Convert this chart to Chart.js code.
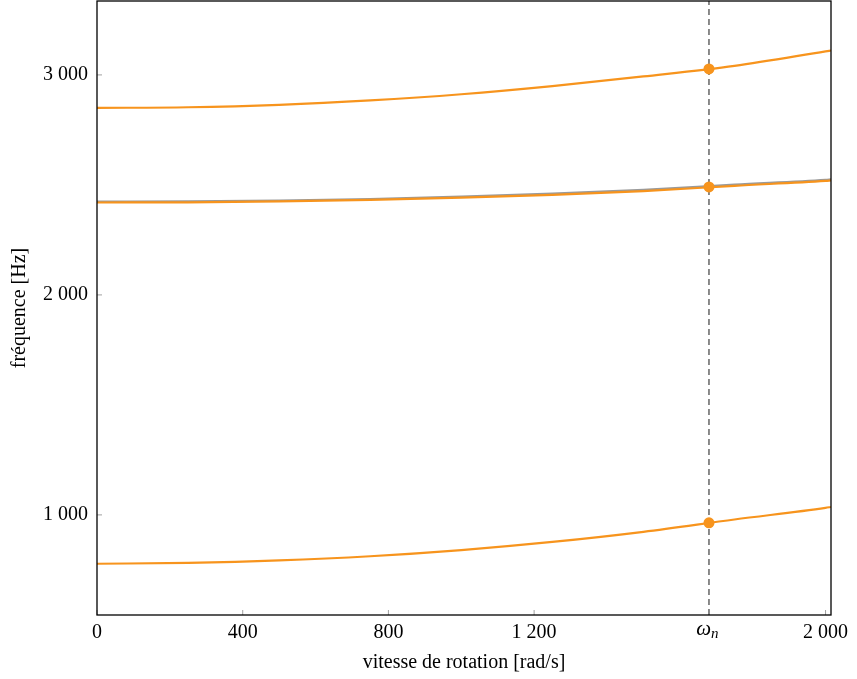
<!DOCTYPE html>
<html>
<head>
<meta charset="utf-8">
<script src="https://cdn.jsdelivr.net/npm/chart.js@4"></script>
<style>
  html, body { margin: 0; padding: 0; background: #fff; }
  #wrap { width: 857px; height: 679px; }
</style>
</head>
<body>
<div id="wrap"><canvas id="grafik" width="857" height="679"></canvas></div>
<script>
// ======= Données =======
const vitesse = [0, 250, 500, 750, 1000, 1250, 1500, 1750, 2000, 2015];
const modeBas = [778, 782, 793, 812, 840, 877, 923, 979, 1032, 1036];
const modeMilieuGris = [2424, 2425, 2429, 2436, 2447, 2460, 2477, 2501, 2523, 2525];
const modeMilieu = [2420, 2421, 2425, 2432, 2442, 2455, 2472, 2496, 2518, 2520];
const modeHaut = [2850, 2853, 2864, 2884, 2912, 2949, 2993, 3041, 3107, 3111];

const omegaN = 1680;
const pointsOmega = [964, 2491, 3027];

const xTicks = [0, 400, 800, 1200, omegaN, 2000];
const yTicks = [1000, 2000, 3000];
const xMin = 0, xMax = 2015;
const yMin = 545, yMax = 3336;

const ORANGE = '#f7941d';
const GRIS = '#9a9a9a';
const POLICE = "'Liberation Serif', 'DejaVu Serif', serif";
const TAILLE = 20;

function serie(ys) {
    return vitesse.map((x, i) => ({ x: x, y: ys[i] }));
}

function milliers(v) {
    return String(v).replace(/\B(?=(\d{3})+(?!\d))/g, ' ');
}

// ======= Cadre, graduations vers l'intérieur, étiquette omega_n =======
const cadrePlugin = {
    id: 'cadre',
    afterDatasetsDraw(chart) {
        const ctx = chart.ctx;
        const a = chart.chartArea;
        const sx = chart.scales.x, sy = chart.scales.y;
        ctx.save();
        ctx.strokeStyle = '#888';
        ctx.lineWidth = 0.8;
        sx.ticks.forEach(t => {
            const px = sx.getPixelForValue(t.value);
            ctx.beginPath();
            ctx.moveTo(px, a.bottom);
            ctx.lineTo(px, a.bottom - 5);
            ctx.stroke();
        });
        sy.ticks.forEach(t => {
            const py = sy.getPixelForValue(t.value);
            ctx.beginPath();
            ctx.moveTo(a.left, py);
            ctx.lineTo(a.left + 5, py);
            ctx.stroke();
        });
        ctx.strokeStyle = '#000';
        ctx.lineWidth = 1.3;
        ctx.strokeRect(a.left, a.top, a.right - a.left, a.bottom - a.top);

        // ω avec indice n
        const px = sx.getPixelForValue(omegaN);
        ctx.fillStyle = '#000';
        ctx.textBaseline = 'alphabetic';
        ctx.font = 'italic ' + (TAILLE + 1) + 'px ' + POLICE;
        ctx.textAlign = 'right';
        ctx.fillText('ω', px + 2, a.bottom + 20);
        ctx.font = 'italic ' + Math.round(TAILLE * 0.75) + 'px ' + POLICE;
        ctx.textAlign = 'left';
        ctx.fillText('n', px + 2, a.bottom + 23);
        ctx.restore();
    }
};

new Chart(document.getElementById('grafik').getContext('2d'), {
    type: 'line',
    data: {
        datasets: [
            {
                label: 'omega_n',
                data: [{ x: omegaN, y: yMin }, { x: omegaN, y: yMax }],
                borderColor: '#6e6e6e',
                borderWidth: 1.6,
                borderDash: [6, 4],
                pointRadius: 0,
                order: 10
            },
            { label: 'bas', data: serie(modeBas), borderColor: ORANGE, borderWidth: 2.2, pointRadius: 0, cubicInterpolationMode: 'monotone', order: 5 },
            { label: 'milieu gris', data: serie(modeMilieuGris), borderColor: GRIS, borderWidth: 2.2, pointRadius: 0, cubicInterpolationMode: 'monotone', order: 6 },
            { label: 'milieu', data: serie(modeMilieu), borderColor: ORANGE, borderWidth: 2.2, pointRadius: 0, cubicInterpolationMode: 'monotone', order: 5 },
            { label: 'haut', data: serie(modeHaut), borderColor: ORANGE, borderWidth: 2.2, pointRadius: 0, cubicInterpolationMode: 'monotone', order: 5 },
            {
                label: 'points',
                data: pointsOmega.map(y => ({ x: omegaN, y: y })),
                showLine: false,
                pointRadius: 5.5,
                pointBackgroundColor: ORANGE,
                pointBorderColor: ORANGE,
                pointBorderWidth: 0,
                order: 1
            }
        ]
    },
    options: {
        responsive: false,
        animation: false,
        layout: { autoPadding: false, padding: { top: 1, right: 26, left: 0, bottom: 4 } },
        plugins: {
            legend: { display: false },
            tooltip: { enabled: false }
        },
        scales: {
            x: {
                type: 'linear',
                min: xMin,
                max: xMax,
                afterBuildTicks: s => { s.ticks = xTicks.map(v => ({ value: v })); },
                afterFit: s => { s.height = 60; s.paddingLeft = 0; s.paddingRight = 0; },
                grid: { display: false, drawTicks: false },
                border: { display: false },
                ticks: {
                    color: '#000',
                    padding: 6,
                    maxRotation: 0,
                    autoSkip: false,
                    font: { family: POLICE, size: TAILLE },
                    callback: v => v === omegaN ? '' : milliers(v)
                },
                title: {
                    display: true,
                    text: 'vitesse de rotation [rad/s]',
                    color: '#000',
                    font: { family: POLICE, size: TAILLE },
                    padding: { top: 2, bottom: 0 }
                }
            },
            y: {
                type: 'linear',
                min: yMin,
                max: yMax,
                afterBuildTicks: s => { s.ticks = yTicks.map(v => ({ value: v })); },
                afterFit: s => { s.width = 97; s.paddingTop = 0; s.paddingBottom = 0; },
                grid: { display: false, drawTicks: false },
                border: { display: false },
                ticks: {
                    color: '#000',
                    padding: 9,
                    font: { family: POLICE, size: TAILLE },
                    callback: v => milliers(v)
                },
                title: {
                    display: true,
                    text: 'fréquence [Hz]',
                    color: '#000',
                    font: { family: POLICE, size: TAILLE },
                    padding: { top: 8, bottom: 0 }
                }
            }
        }
    },
    plugins: [cadrePlugin]
});
</script>
</body>
</html>
